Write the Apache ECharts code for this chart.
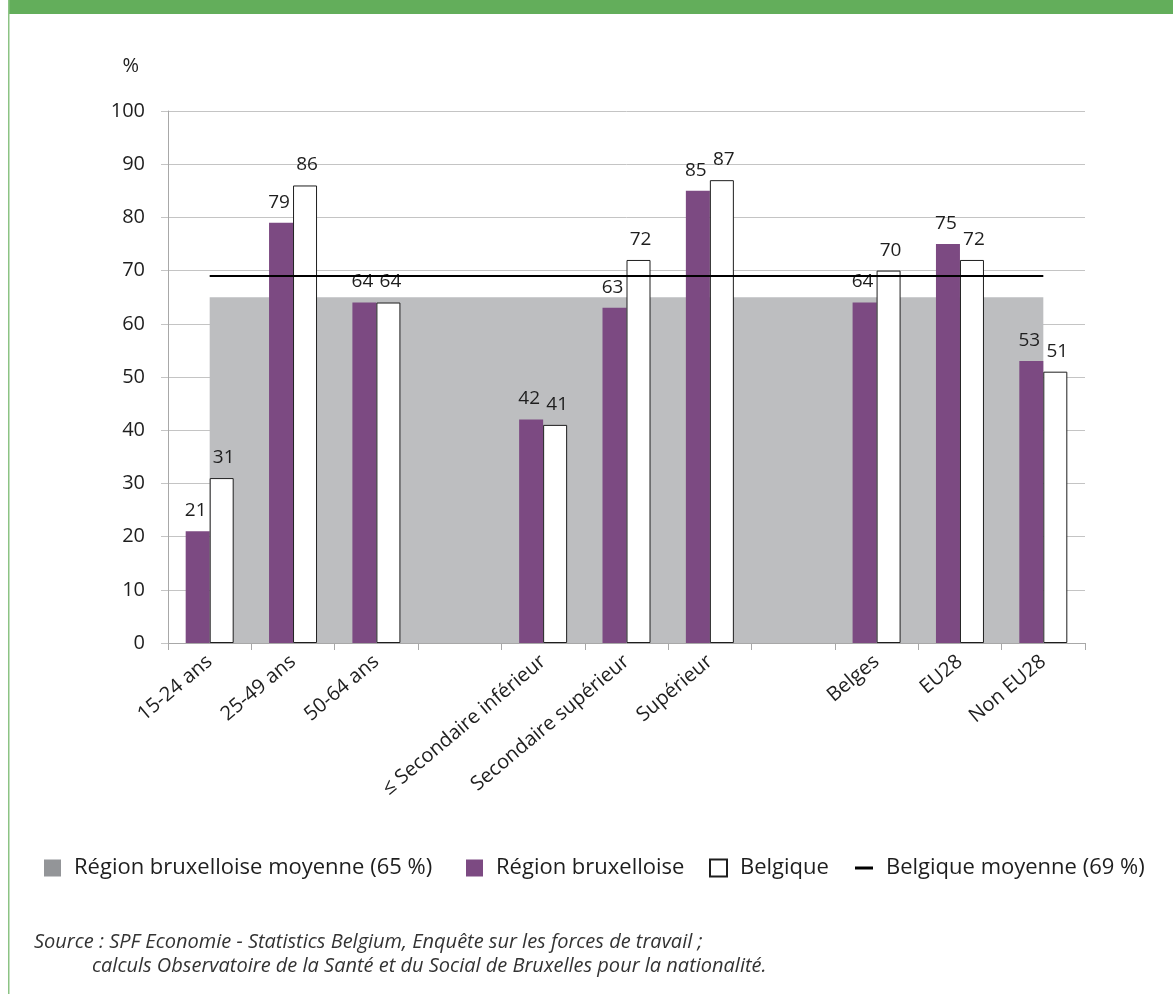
<!DOCTYPE html>
<html>
<head>
<meta charset="utf-8">
<script src="https://cdn.jsdelivr.net/npm/echarts@6/dist/echarts.min.js"></script>
<style>
  html, body { margin: 0; padding: 0; background: #fff; }
  #chart { width: 1173px; height: 994px; }
</style>
</head>
<body>
<div id="chart"></div>
<script>
// Taux d'emploi (%) par groupe d'âge, niveau d'instruction et nationalité
const categories = [
  '15-24 ans', '25-49 ans', '50-64 ans', '',
  '≤ Secondaire inférieur', 'Secondaire supérieur', 'Supérieur', '',
  'Belges', 'EU28', 'Non EU28'
];
const regionBruxelloise = [21, 79, 64, '-', 42, 63, 85, '-', 64, 75, 53];
const belgique          = [31, 86, 64, '-', 41, 72, 87, '-', 70, 72, 51];
const moyenneBruxelles = 65;
const moyenneBelgique = 69;
const yMin = 0, yMax = 100, yStep = 10;

const FONT = "'Open Sans', sans-serif";
const PURPLE = '#7c4a82';
const AREA_GREY = '#bdbec0';
const LEGEND_GREY = '#939598';
const TEXT = '#1e1e1e';

const seriesNames = [
  'Région bruxelloise moyenne (65 %)',
  'Région bruxelloise',
  'Belgique',
  'Belgique moyenne (69 %)'
];

const legendText = { fontSize: 22, color: TEXT, fontFamily: FONT, padding: [0, 0, 0, 8] };

// one legend block per entry so each sits at its own spot on the row
function legendEntry(left, item, w, h) {
  return {
    left: left, top: 852,
    itemWidth: w, itemHeight: h,
    textStyle: legendText,
    selectedMode: false,
    data: [item]
  };
}

const valueLabel = (dx) => ({
  show: true, position: 'top', distance: 11, offset: [dx, 0],
  fontSize: 19, color: TEXT, fontFamily: FONT
});

const chart = echarts.init(document.getElementById('chart'), null, { renderer: 'canvas' });

chart.setOption({
  animation: false,
  backgroundColor: '#fff',
  textStyle: { fontFamily: FONT },
  grid: { left: 168, right: 88, top: 111, bottom: 351, containLabel: false },
  xAxis: {
    type: 'category',
    data: categories,
    boundaryGap: true,
    axisLine: { lineStyle: { color: '#a8a8a8', width: 1 } },
    axisTick: { show: true, length: 7, lineStyle: { color: '#a8a8a8' } },
    axisLabel: {
      interval: 0, rotate: 40, margin: 16,
      fontSize: 20, color: TEXT, fontFamily: FONT
    }
  },
  yAxis: {
    type: 'value',
    min: yMin, max: yMax, interval: yStep,
    name: '%',
    nameLocation: 'end',
    nameGap: 35,
    nameTextStyle: { fontSize: 20, color: TEXT, fontFamily: FONT, align: 'right', padding: [0, 29, 0, 0] },
    axisLine: { show: true, lineStyle: { color: '#a8a8a8', width: 1 } },
    axisTick: { show: true, length: 7, lineStyle: { color: '#c4c4c4' } },
    axisLabel: { margin: 23, fontSize: 20, color: TEXT, fontFamily: FONT },
    splitLine: { show: true, lineStyle: { color: '#c4c4c4', width: 1 } }
  },
  legend: [
    legendEntry(39, { name: seriesNames[0], icon: 'rect', itemStyle: { color: LEGEND_GREY, borderWidth: 0 } }, 17, 17),
    legendEntry(461, { name: seriesNames[1], icon: 'rect' }, 17, 17),
    legendEntry(704, { name: seriesNames[2], icon: 'rect' }, 17, 17),
    legendEntry(850, { name: seriesNames[3], icon: 'rect' }, 18, 3)
  ],
  series: [
    {
      name: seriesNames[0],
      type: 'line',
      data: categories.map(() => moyenneBruxelles),
      symbol: 'none',
      showSymbol: false,
      lineStyle: { width: 0, color: AREA_GREY },
      itemStyle: { color: AREA_GREY },
      areaStyle: { color: AREA_GREY, opacity: 1 },
      z: 1,
      silent: true
    },
    {
      name: seriesNames[1],
      type: 'bar',
      data: regionBruxelloise,
      barWidth: 24,
      barGap: '0%',
      itemStyle: { color: PURPLE },
      label: valueLabel(-2),
      z: 2
    },
    {
      name: seriesNames[2],
      type: 'bar',
      data: belgique,
      barWidth: 24,
      barGap: '0%',
      itemStyle: { color: '#ffffff', borderColor: '#1e1e1e', borderWidth: 1 },
      label: valueLabel(2),
      z: 2
    },
    {
      name: seriesNames[3],
      type: 'line',
      data: categories.map(() => moyenneBelgique),
      symbol: 'none',
      showSymbol: false,
      lineStyle: { width: 2, color: '#000' },
      itemStyle: { color: '#000' },
      z: 3,
      silent: true
    }
  ],
  graphic: [
    { type: 'rect', left: 9, top: 0, shape: { width: 1164, height: 14 }, style: { fill: '#63ae5b' }, silent: true },
    { type: 'rect', left: 8, top: 0, shape: { width: 1.5, height: 994 }, style: { fill: '#8cc384' }, silent: true },
    {
      type: 'text', left: 34, top: 932, silent: true,
      style: {
        text: 'Source : SPF Economie - Statistics Belgium, Enquête sur les forces de travail ;',
        font: 'italic 20px ' + FONT, fill: '#333'
      }
    },
    {
      type: 'text', left: 92, top: 956, silent: true,
      style: {
        text: 'calculs Observatoire de la Santé et du Social de Bruxelles pour la nationalité.',
        font: 'italic 20px ' + FONT, fill: '#333'
      }
    }
  ]
});
</script>
</body>
</html>
